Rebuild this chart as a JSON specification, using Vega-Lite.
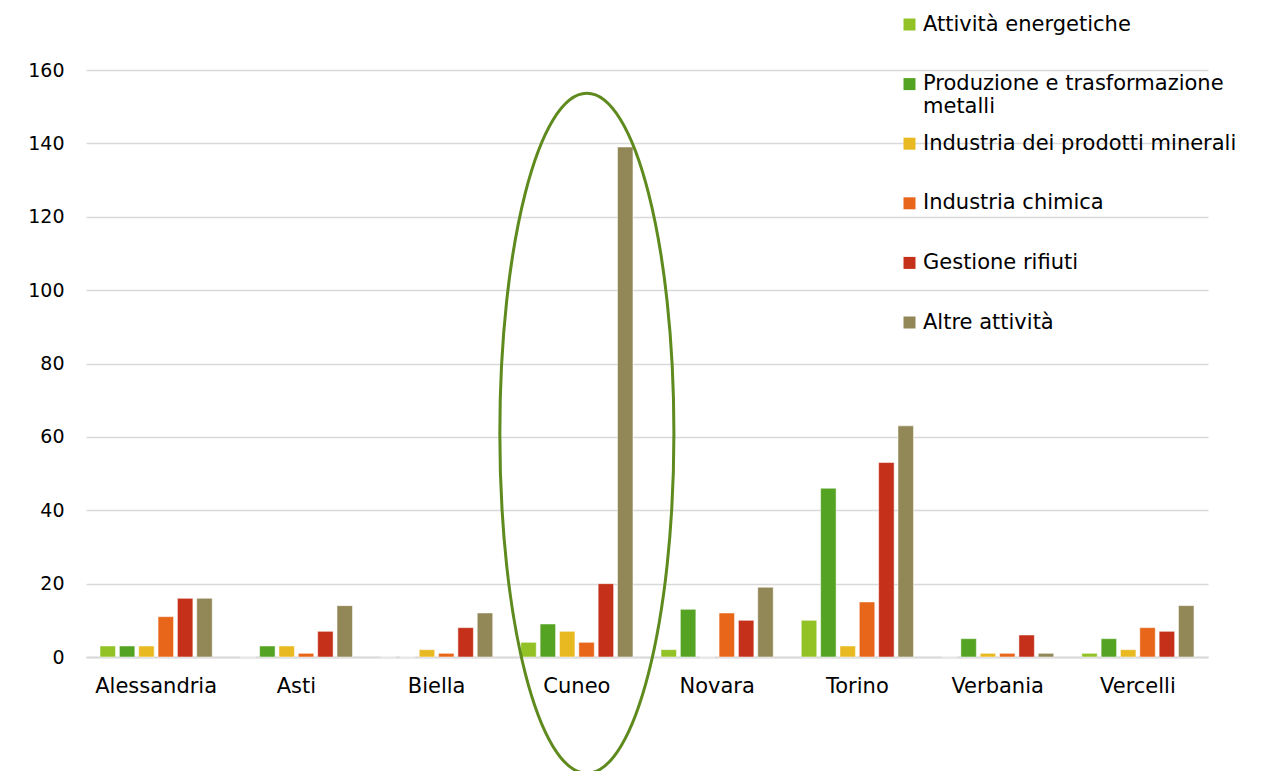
{
  "$schema": "https://vega.github.io/schema/vega-lite/v6.json",
  "autosize": {"type": "none"},
  "width": 1122,
  "height": 587,
  "padding": {"left": 86, "top": 70, "right": 73, "bottom": 114},
  "background": "white",
  "config": {"font": "DejaVu Sans", "view": {"stroke": null}},
  "datasets": {
    "bars": [
      {"provincia": "Alessandria", "categoria": "Attività energetiche", "valore": 3},
      {"provincia": "Alessandria", "categoria": "Produzione e trasformazione metalli", "valore": 3},
      {"provincia": "Alessandria", "categoria": "Industria dei prodotti minerali", "valore": 3},
      {"provincia": "Alessandria", "categoria": "Industria chimica", "valore": 11},
      {"provincia": "Alessandria", "categoria": "Gestione rifiuti", "valore": 16},
      {"provincia": "Alessandria", "categoria": "Altre attività", "valore": 16},
      {"provincia": "Asti", "categoria": "Attività energetiche", "valore": 0},
      {"provincia": "Asti", "categoria": "Produzione e trasformazione metalli", "valore": 3},
      {"provincia": "Asti", "categoria": "Industria dei prodotti minerali", "valore": 3},
      {"provincia": "Asti", "categoria": "Industria chimica", "valore": 1},
      {"provincia": "Asti", "categoria": "Gestione rifiuti", "valore": 7},
      {"provincia": "Asti", "categoria": "Altre attività", "valore": 14},
      {"provincia": "Biella", "categoria": "Attività energetiche", "valore": 0},
      {"provincia": "Biella", "categoria": "Produzione e trasformazione metalli", "valore": 0},
      {"provincia": "Biella", "categoria": "Industria dei prodotti minerali", "valore": 2},
      {"provincia": "Biella", "categoria": "Industria chimica", "valore": 1},
      {"provincia": "Biella", "categoria": "Gestione rifiuti", "valore": 8},
      {"provincia": "Biella", "categoria": "Altre attività", "valore": 12},
      {"provincia": "Cuneo", "categoria": "Attività energetiche", "valore": 4},
      {"provincia": "Cuneo", "categoria": "Produzione e trasformazione metalli", "valore": 9},
      {"provincia": "Cuneo", "categoria": "Industria dei prodotti minerali", "valore": 7},
      {"provincia": "Cuneo", "categoria": "Industria chimica", "valore": 4},
      {"provincia": "Cuneo", "categoria": "Gestione rifiuti", "valore": 20},
      {"provincia": "Cuneo", "categoria": "Altre attività", "valore": 139},
      {"provincia": "Novara", "categoria": "Attività energetiche", "valore": 2},
      {"provincia": "Novara", "categoria": "Produzione e trasformazione metalli", "valore": 13},
      {"provincia": "Novara", "categoria": "Industria dei prodotti minerali", "valore": 0},
      {"provincia": "Novara", "categoria": "Industria chimica", "valore": 12},
      {"provincia": "Novara", "categoria": "Gestione rifiuti", "valore": 10},
      {"provincia": "Novara", "categoria": "Altre attività", "valore": 19},
      {"provincia": "Torino", "categoria": "Attività energetiche", "valore": 10},
      {"provincia": "Torino", "categoria": "Produzione e trasformazione metalli", "valore": 46},
      {"provincia": "Torino", "categoria": "Industria dei prodotti minerali", "valore": 3},
      {"provincia": "Torino", "categoria": "Industria chimica", "valore": 15},
      {"provincia": "Torino", "categoria": "Gestione rifiuti", "valore": 53},
      {"provincia": "Torino", "categoria": "Altre attività", "valore": 63},
      {"provincia": "Verbania", "categoria": "Attività energetiche", "valore": 0},
      {"provincia": "Verbania", "categoria": "Produzione e trasformazione metalli", "valore": 5},
      {"provincia": "Verbania", "categoria": "Industria dei prodotti minerali", "valore": 1},
      {"provincia": "Verbania", "categoria": "Industria chimica", "valore": 1},
      {"provincia": "Verbania", "categoria": "Gestione rifiuti", "valore": 6},
      {"provincia": "Verbania", "categoria": "Altre attività", "valore": 1},
      {"provincia": "Vercelli", "categoria": "Attività energetiche", "valore": 1},
      {"provincia": "Vercelli", "categoria": "Produzione e trasformazione metalli", "valore": 5},
      {"provincia": "Vercelli", "categoria": "Industria dei prodotti minerali", "valore": 2},
      {"provincia": "Vercelli", "categoria": "Industria chimica", "valore": 8},
      {"provincia": "Vercelli", "categoria": "Gestione rifiuti", "valore": 7},
      {"provincia": "Vercelli", "categoria": "Altre attività", "valore": 14}
    ],
    "evidenza": [{"provincia": "Cuneo", "centro": 61}]
  },
  "layer": [
    {
      "data": {"name": "bars"},
      "mark": {"type": "bar", "stroke": "white", "strokeWidth": 1, "strokeOpacity": 0.5},
      "encoding": {
        "x": {
          "field": "provincia", "type": "nominal",
          "scale": {"paddingInner": 0.2, "paddingOuter": 0.1},
          "axis": {"title": null, "labelAngle": 0, "ticks": false, "domainColor": "#D9D9D9", "domainWidth": 2, "labelFontSize": 21, "labelColor": "#000000", "labelPadding": 18, "grid": false}
        },
        "xOffset": {
          "field": "categoria", "type": "nominal",
          "sort": ["Attività energetiche", "Produzione e trasformazione metalli", "Industria dei prodotti minerali", "Industria chimica", "Gestione rifiuti", "Altre attività"],
          "scale": {"paddingInner": 0.2, "paddingOuter": 0}
        },
        "y": {
          "field": "valore", "type": "quantitative",
          "scale": {"domain": [0, 160], "nice": false},
          "axis": {"title": null, "domain": false, "ticks": false, "grid": true, "gridColor": "#D9D9D9", "gridWidth": 1.5, "values": [0, 20, 40, 60, 80, 100, 120, 140, 160], "labelFontSize": 19, "labelColor": "#000000", "labelPadding": 22}
        },
        "color": {
          "field": "categoria", "type": "nominal",
          "scale": {
            "domain": ["Attività energetiche", "Produzione e trasformazione metalli", "Industria dei prodotti minerali", "Industria chimica", "Gestione rifiuti", "Altre attività"],
            "range": ["#92C225", "#55A323", "#E8B921", "#E8661A", "#C4301A", "#928756"]
          },
          "legend": {
            "title": null, "orient": "none", "legendX": 813, "legendY": -56,
            "symbolType": "square", "symbolSize": 144, "symbolStrokeWidth": 0,
            "labelFontSize": 21, "labelLineHeight": 23, "labelColor": "#000000", "labelOffset": 3, "labelLimit": 400,
            "rowPadding": 14.6,
            "labelExpr": "datum.label == 'Produzione e trasformazione metalli' ? ['Produzione e trasformazione', 'metalli'] : [datum.label, ' ']"
          }
        }
      }
    },
    {
      "data": {"name": "evidenza"},
      "mark": {
        "type": "point",
        "shape": "M 0,-1 C 0.1414,-1 0.256,-0.5523 0.256,0 C 0.256,0.5523 0.1414,1 0,1 C -0.1414,1 -0.256,0.5523 -0.256,0 C -0.256,-0.5523 -0.1414,-1 0,-1 Z",
        "size": 462400, "filled": false, "stroke": "#5E8A1E", "strokeWidth": 3, "opacity": 1, "xOffset": 10, "clip": false
      },
      "encoding": {
        "x": {"field": "provincia", "type": "nominal"},
        "y": {"field": "centro", "type": "quantitative"}
      }
    }
  ]
}
